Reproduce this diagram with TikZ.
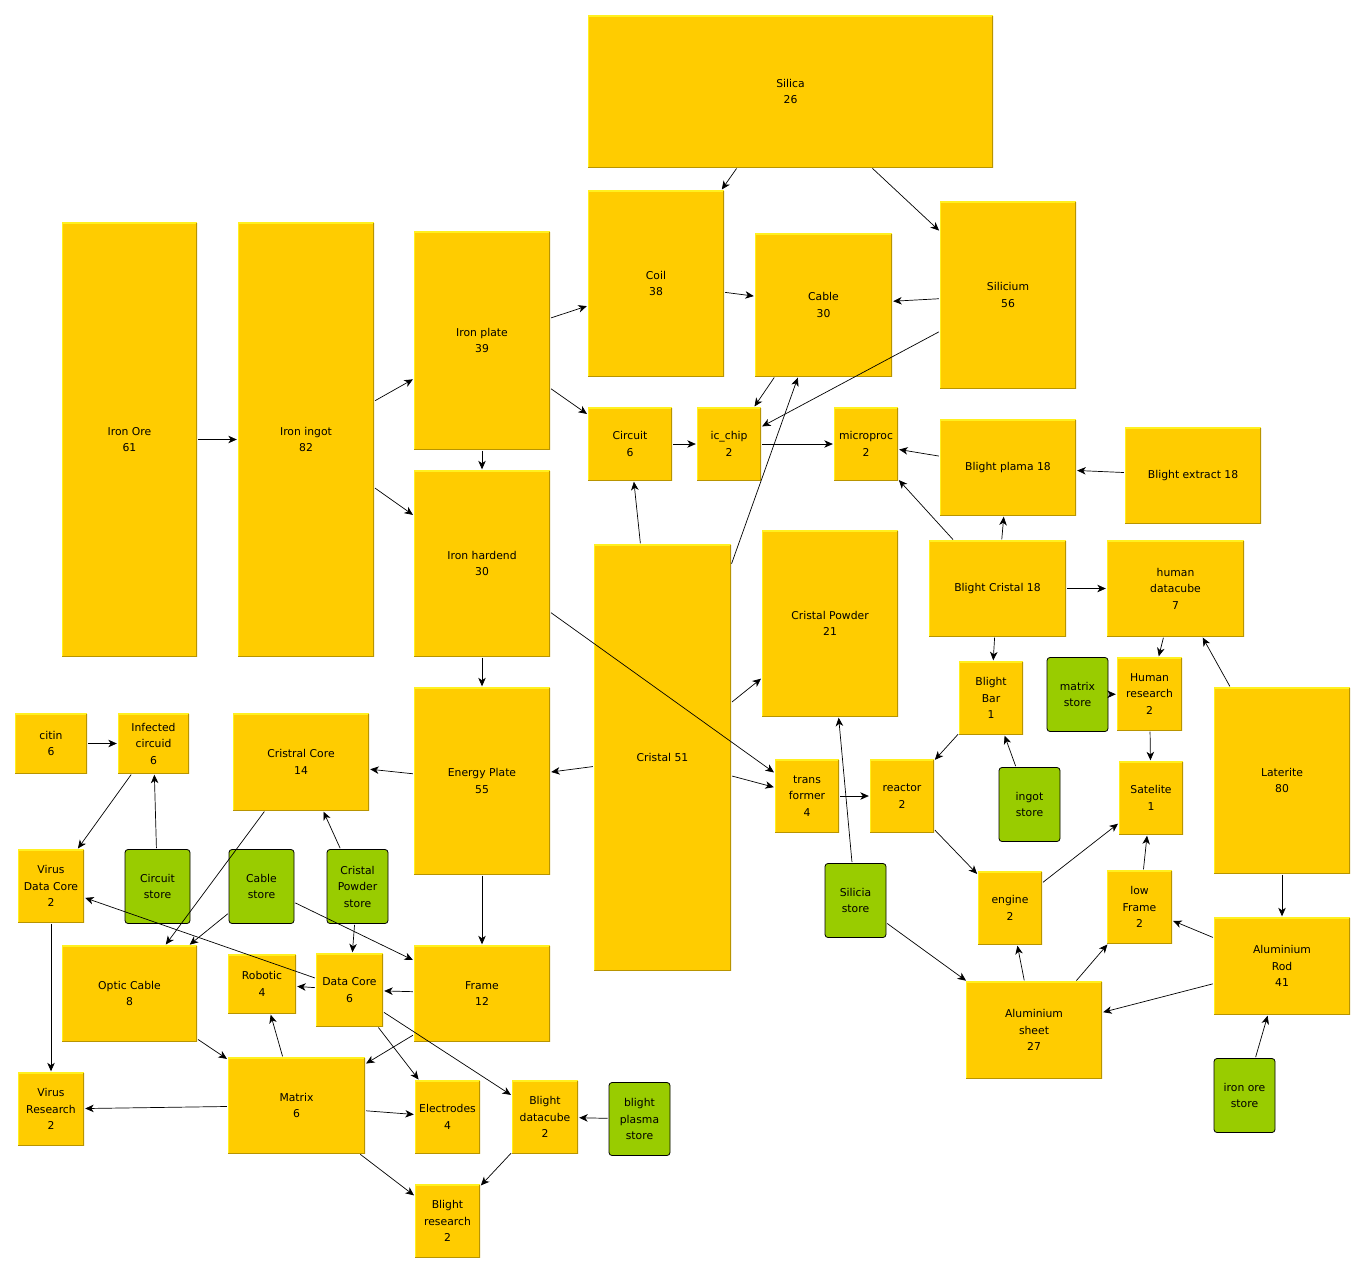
\documentclass[tikz,border=0pt]{standalone}
\usepackage{fontspec}
\setmainfont{DejaVu Sans}
\usetikzlibrary{arrows.meta}
\definecolor{boxyellow}{HTML}{FFCC00}
\definecolor{boxlight}{HTML}{FFF020}
\definecolor{boxdark}{HTML}{B89400}
\definecolor{storegreen}{HTML}{99CC00}
\tikzset{
  box/.style={rectangle, fill=boxyellow, inner sep=0pt, align=center,
    font=\fontsize{10.8}{16.5}\selectfont,
    path picture={
      \draw[boxlight, line width=2pt] (path picture bounding box.south west) -- (path picture bounding box.north west) -- (path picture bounding box.north east);
      \draw[boxdark, line width=2pt] (path picture bounding box.south west) -- (path picture bounding box.south east) -- (path picture bounding box.north east);
    }},
  store/.style={rectangle, rounded corners=3pt, fill=storegreen, draw=black, line width=0.8pt,
    inner sep=0pt, align=center, font=\fontsize{10.8}{16.5}\selectfont},
  flow/.style={draw=black, line width=0.7pt, shorten >=1pt, shorten <=1pt,
    -{Stealth[length=8.5pt, width=7.5pt, inset=2.5pt]}}
}
\newcommand{\bx}[6]{\node[box, minimum width=#3, minimum height=#4] (#1) at (#2) {#5};}
\newcommand{\st}[6]{\node[store, minimum width=#3, minimum height=#4] (#1) at (#2) {#5};}
\begin{document}
\begin{tikzpicture}[x=1pt, y=-1pt]
\useasboundingbox[fill=white] (0,0) rectangle (1367,1274);

% production chain boxes
\bx{silica}{790.5,91.5}{405}{152}{Silica\\26}{}
\bx{coil}{656,283.5}{136}{186}{Coil\\38}{}
\bx{cable}{823.5,305}{137}{143}{Cable\\30}{}
\bx{silicium}{1008,295}{136}{187}{Silicium\\56}{}
\bx{ironore}{129.5,439.5}{135}{434}{Iron Ore\\61}{}
\bx{ironingot}{306,439.5}{136}{434}{Iron ingot\\82}{}
\bx{ironplate}{482,340.5}{136}{218}{Iron plate\\39}{}
\bx{circuit}{630,444}{84}{73}{Circuit\\6}{}
\bx{icchip}{729,444}{64}{73}{ic\_chip\\2}{}
\bx{microproc}{866,444}{64}{73}{microproc\\2}{}
\bx{blightplama}{1008,467.5}{136}{96}{Blight plama 18}{}
\bx{blightextract}{1193,475.5}{136}{96}{Blight extract 18}{}
\bx{ironhardend}{482,563.5}{136}{186}{Iron hardend\\30}{}
\bx{cristal}{662.5,757.5}{137}{426}{Cristal 51}{}
\bx{cristalpowder}{830,623.5}{136}{186}{Cristal Powder\\21}{}
\bx{blightcristal}{997.5,588.5}{137}{96}{Blight Cristal 18}{}
\bx{humandatacube}{1175.5,588.5}{137}{96}{human\\datacube\\7}{}
\bx{blightbar}{991,698}{64}{73}{Blight\\Bar\\1}{}
\bx{humanresearch}{1149.5,694}{65}{73}{Human\\research\\2}{}
\bx{laterite}{1282,780.5}{136}{186}{Laterite\\80}{}
\bx{citin}{51,743.5}{72}{60}{citin\\6}{}
\bx{infected}{153.5,743.5}{71}{60}{Infected\\circuid\\6}{}
\bx{cristralcore}{301,762}{136}{97}{Cristral Core\\14}{}
\bx{energyplate}{482,781}{136}{187}{Energy Plate\\55}{}
\bx{transformer}{807,796}{64}{73}{trans\\former\\4}{}
\bx{reactor}{902,796}{64}{73}{reactor\\2}{}
\bx{satelite}{1151,798}{64}{73}{Satelite\\1}{}
\bx{virusdatacore}{51,886}{66}{73}{Virus\\Data Core\\2}{}
\bx{engine}{1010,908}{64}{73}{engine\\2}{}
\bx{lowframe}{1139.5,907}{65}{73}{low\\Frame\\2}{}
\bx{opticcable}{129.5,993.5}{135}{96}{Optic Cable\\8}{}
\bx{robotic}{262,984}{68}{59}{Robotic\\4}{}
\bx{datacore}{349.5,990}{67}{73}{Data Core\\6}{}
\bx{frame}{482,993.5}{136}{96}{Frame\\12}{}
\bx{alurod}{1282,966}{136}{97}{Aluminium\\Rod\\41}{}
\bx{alusheet}{1034,1030}{136}{97}{Aluminium\\sheet\\27}{}
\bx{matrix}{296.5,1105.5}{137}{96}{Matrix\\6}{}
\bx{electrodes}{447.5,1117}{65}{73}{Electrodes\\4}{}
\bx{blightdatacube}{545,1117}{66}{73}{Blight\\datacube\\2}{}
\bx{virusresearch}{51,1109}{66}{73}{Virus\\Research\\2}{}
\bx{blightresearch}{447.5,1221}{65}{73}{Blight\\research\\2}{}

% stores
\st{matrixstore}{1077.5,694.5}{61}{74}{matrix\\store}{}
\st{ingotstore}{1029.5,804.5}{61}{74}{ingot\\store}{}
\st{circuitstore}{157.5,886.5}{65}{74}{Circuit\\store}{}
\st{cablestore}{261.5,886.5}{65}{74}{Cable\\store}{}
\st{powderstore}{357.5,886.5}{61}{74}{Cristal\\Powder\\store}{}
\st{siliciastore}{855.5,900.5}{61}{74}{Silicia\\store}{}
\st{plasmastore}{639.5,1119}{61}{73}{blight\\plasma\\store}{}
\st{ironorestore}{1244.5,1095.5}{61}{74}{iron ore\\store}{}

% flows
\foreach \a/\b in {
  ironore/ironingot, ironingot/ironplate, ironingot/ironhardend,
  ironplate/coil, ironplate/circuit, ironplate/ironhardend,
  silica/coil, silica/silicium, coil/cable, silicium/cable,
  cable/icchip, silicium/icchip, circuit/icchip, icchip/microproc,
  cristal/cable, cristal/circuit, blightplama/microproc, blightcristal/microproc,
  blightextract/blightplama, blightcristal/blightplama, blightcristal/humandatacube,
  blightcristal/blightbar, humandatacube/humanresearch, laterite/humandatacube,
  matrixstore/humanresearch, humanresearch/satelite,
  ironhardend/energyplate, ironhardend/transformer,
  cristal/cristalpowder, cristal/transformer, cristal/energyplate,
  energyplate/cristralcore, energyplate/frame, transformer/reactor,
  siliciastore/cristalpowder, siliciastore/alusheet,
  blightbar/reactor, ingotstore/blightbar, reactor/engine, engine/satelite,
  lowframe/satelite, alusheet/engine, alusheet/lowframe,
  alurod/lowframe, alurod/alusheet, laterite/alurod, ironorestore/alurod,
  citin/infected, infected/virusdatacore, circuitstore/infected,
  cristralcore/opticcable, cablestore/opticcable, powderstore/cristralcore,
  cablestore/frame, powderstore/datacore, datacore/virusdatacore,
  virusdatacore/virusresearch, frame/datacore, datacore/robotic,
  datacore/electrodes, datacore/blightdatacube, frame/matrix,
  opticcable/matrix, matrix/robotic, matrix/virusresearch,
  matrix/electrodes, matrix/blightresearch, blightdatacube/blightresearch,
  plasmastore/blightdatacube}
  \draw[flow] (\a) -- (\b);
\end{tikzpicture}
\end{document}
